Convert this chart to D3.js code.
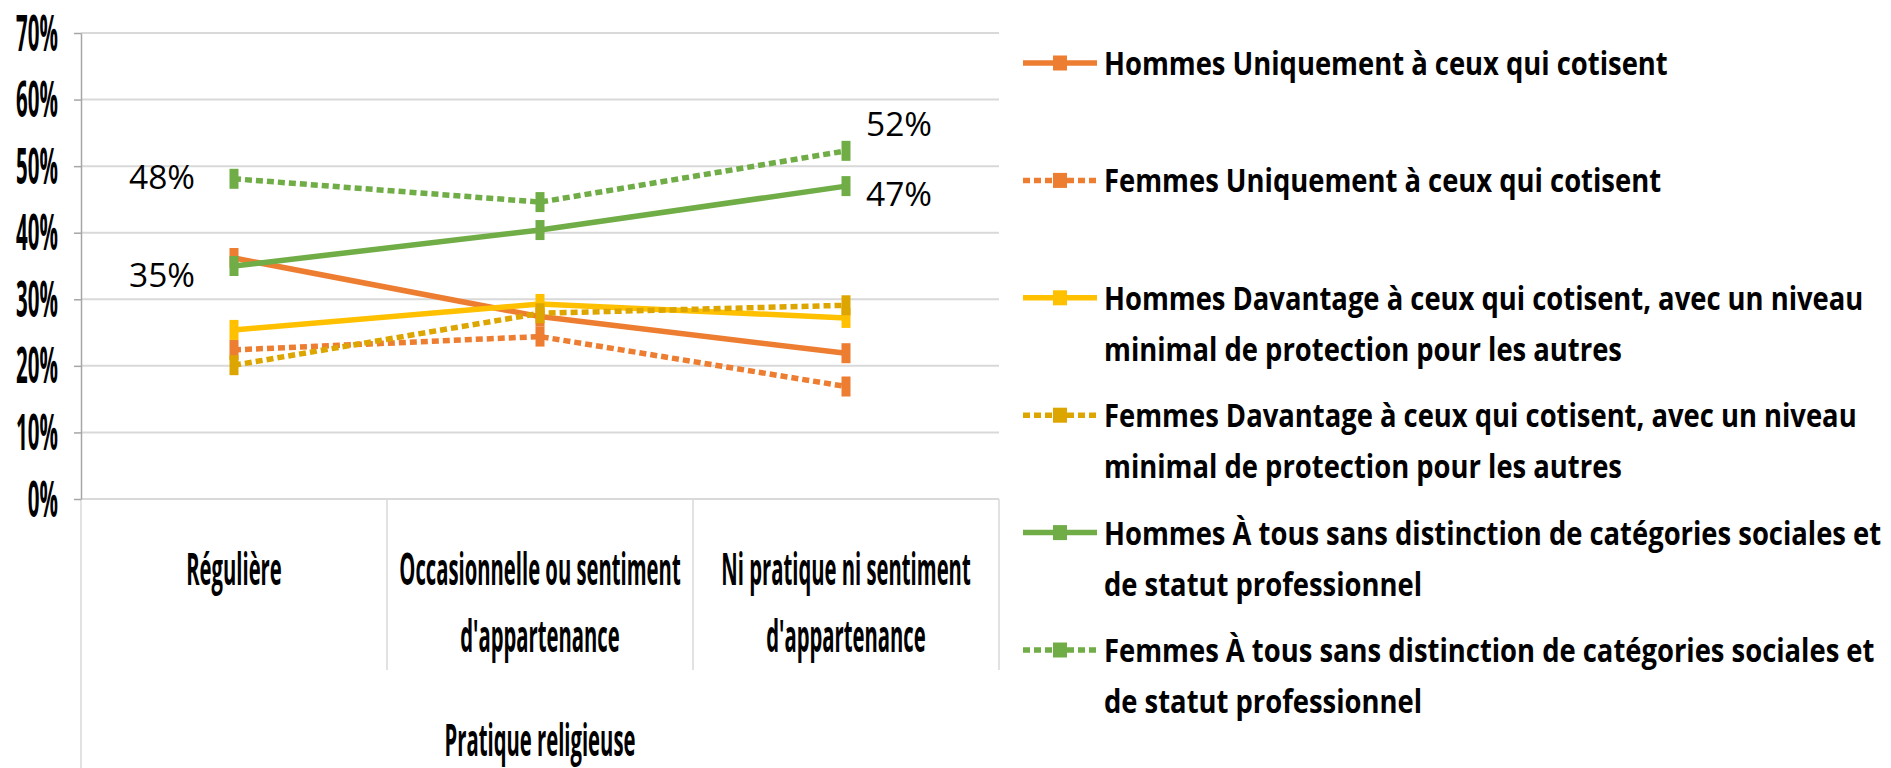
<!DOCTYPE html>
<html>
<head>
<meta charset="utf-8">
<script src="https://cdn.jsdelivr.net/npm/d3@7"></script>
<style>
  body { margin: 0; background: #fff; }
  text { font-family: "Open Sans", "Noto Sans", sans-serif; fill: #000; }
</style>
</head>
<body>
<script>
// categories (x axis), each split in lines as in the picture
var categoryLines = [
  ["Régulière"],
  ["Occasionnelle ou sentiment", "d'appartenance"],
  ["Ni pratique ni sentiment", "d'appartenance"]
];
var axisTitle = "Pratique religieuse";
var yTicks = [0, 0.1, 0.2, 0.3, 0.4, 0.5, 0.6, 0.7];

// series values
var hommesUniquement = [0.362, 0.274, 0.219];
var femmesUniquement = [0.224, 0.244, 0.169];
var hommesDavantage  = [0.254, 0.293, 0.272];
var femmesDavantage  = [0.201, 0.279, 0.291];
var hommesTous       = [0.350, 0.404, 0.470];
var femmesTous       = [0.481, 0.446, 0.523];

var seriesNames = [
  ["Hommes Uniquement à ceux qui cotisent"],
  ["Femmes Uniquement à ceux qui cotisent"],
  ["Hommes Davantage à ceux qui cotisent, avec un niveau", "minimal de protection pour les autres"],
  ["Femmes Davantage à ceux qui cotisent, avec un niveau", "minimal de protection pour les autres"],
  ["Hommes À tous sans distinction de catégories sociales et", "de statut professionnel"],
  ["Femmes À tous sans distinction de catégories sociales et", "de statut professionnel"]
];
var seriesValues = [hommesUniquement, femmesUniquement, hommesDavantage, femmesDavantage, hommesTous, femmesTous];
var seriesColors = ["#ED7D31", "#ED7D31", "#FFC000", "#DDA500", "#70AD47", "#70AD47"];
var seriesDashed = [false, true, false, true, false, true];

// the four data labels shown on the chart: series index, category index, offset
var labelSeries = [5, 4, 5, 4];
var labelCat    = [0, 0, 2, 2];
var labelDx     = [-39, -39, 20, 20];
var labelDy     = [-2, 9, -27, 8];
var labelSide   = ["end", "end", "start", "start"];

var width = 1891, height = 768;
var plotLeft = 81, plotRight = 999, plotTop = 33, plotBottom = 499;

var svg = d3.select("body").append("svg")
  .attr("width", width)
  .attr("height", height);

var x = d3.scaleBand()
  .domain(d3.range(categoryLines.length))
  .range([plotLeft, plotRight])
  .padding(0);

var y = d3.scaleLinear()
  .domain([0, 0.7])
  .range([plotBottom, plotTop]);

function cx(i) { return x(i) + x.bandwidth() / 2; }

// gridlines
svg.append("g").selectAll("line")
  .data(yTicks)
  .enter().append("line")
    .attr("x1", plotLeft).attr("x2", plotRight)
    .attr("y1", function(d) { return y(d); })
    .attr("y2", function(d) { return y(d); })
    .attr("stroke", "#d9d9d9")
    .attr("stroke-width", 2);

// category dividers below the axis + left border down to the bottom
svg.append("g").selectAll("line")
  .data(d3.range(1, categoryLines.length + 1))
  .enter().append("line")
    .attr("x1", function(d) { return plotLeft + d * x.bandwidth(); })
    .attr("x2", function(d) { return plotLeft + d * x.bandwidth(); })
    .attr("y1", plotBottom).attr("y2", 670)
    .attr("stroke", "#d9d9d9")
    .attr("stroke-width", 1.5);

svg.append("line")
  .attr("x1", plotLeft).attr("x2", plotLeft)
  .attr("y1", plotBottom).attr("y2", height)
  .attr("stroke", "#d9d9d9")
  .attr("stroke-width", 1.5);

// y axis
var yAxis = d3.axisLeft(y)
  .tickValues(yTicks)
  .tickFormat(d3.format(".0%"))
  .tickSize(7)
  .tickSizeOuter(0);

var yg = svg.append("g")
  .attr("transform", "translate(" + plotLeft + ",0)")
  .call(yAxis);
yg.select(".domain").attr("stroke", "#a6a6a6").attr("stroke-width", 1.5);
yg.selectAll(".tick line").attr("stroke", "#a6a6a6").attr("stroke-width", 1.5);
yg.selectAll(".tick text")
  .attr("x", 0).attr("y", 0).attr("dy", 0)
  .attr("transform", "translate(-23,17) scale(0.41,1)")
  .style("font-family", "'Open Sans', 'Noto Sans', sans-serif")
  .style("font-size", "50px")
  .style("font-weight", "bold")
  .style("fill", "#000");

// category labels
categoryLines.forEach(function(lines, i) {
  lines.forEach(function(t, j) {
    svg.append("text")
      .attr("transform", "translate(" + cx(i) + "," + (585 + j * 67) + ") scale(0.45,1)")
      .attr("text-anchor", "middle")
      .style("font-size", "45px")
      .style("font-weight", "bold")
      .text(t);
  });
});

svg.append("text")
  .attr("transform", "translate(" + ((plotLeft + plotRight) / 2) + ",756) scale(0.45,1)")
  .attr("text-anchor", "middle")
  .style("font-size", "45px")
  .style("font-weight", "bold")
  .text(axisTitle);

// lines and markers
var line = d3.line()
  .x(function(d, i) { return cx(i); })
  .y(function(d) { return y(d); });

seriesValues.forEach(function(vals, s) {
  var g = svg.append("g");
  g.append("path")
    .attr("d", line(vals))
    .attr("fill", "none")
    .attr("stroke", seriesColors[s])
    .attr("stroke-width", 5.5)
    .attr("stroke-dasharray", seriesDashed[s] ? "7,4" : null);
  g.selectAll("rect")
    .data(vals)
    .enter().append("rect")
      .attr("x", function(d, i) { return cx(i) - 4.5; })
      .attr("y", function(d) { return y(d) - 10; })
      .attr("width", 9)
      .attr("height", 20)
      .attr("fill", seriesColors[s]);
});

// data labels
labelSeries.forEach(function(s, k) {
  var v = seriesValues[s][labelCat[k]];
  svg.append("text")
    .attr("x", cx(labelCat[k]) + labelDx[k])
    .attr("y", y(v) + labelDy[k] + 12)
    .attr("text-anchor", labelSide[k])
    .style("font-size", "33.5px")
    .text(d3.format(".0%")(v));
});

// legend
var legendX = 1023, legendStep = 117.4, legendTop = 63;
seriesNames.forEach(function(lines, s) {
  var cy = legendTop + s * legendStep;
  var g = svg.append("g");
  g.append("line")
    .attr("x1", legendX).attr("x2", legendX + 74)
    .attr("y1", cy).attr("y2", cy)
    .attr("stroke", seriesColors[s])
    .attr("stroke-width", 5.5)
    .attr("stroke-dasharray", seriesDashed[s] ? "7,4" : null);
  g.append("rect")
    .attr("x", legendX + 30).attr("y", cy - 7.5)
    .attr("width", 14).attr("height", 15)
    .attr("fill", seriesColors[s]);
  lines.forEach(function(t, j) {
    g.append("text")
      .attr("transform", "translate(1104," + (cy + 12 + j * 51) + ") scale(0.83,1)")
      .style("font-size", "33px")
      .style("font-weight", "bold")
      .text(t);
  });
});
</script>
</body>
</html>
